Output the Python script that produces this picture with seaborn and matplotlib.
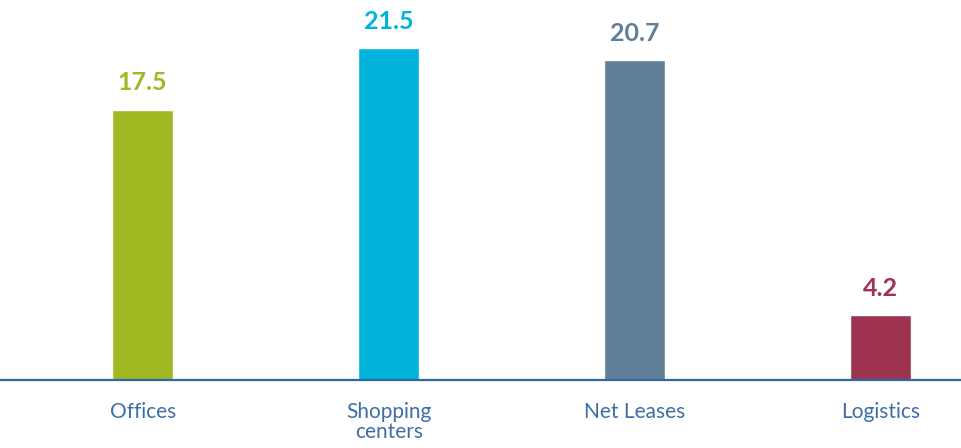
import matplotlib
matplotlib.use("Agg")
import matplotlib.pyplot as plt
import seaborn as sns
import pandas as pd

categories = ["Offices", "Shopping\ncenters", "Net Leases", "Logistics"]
values = [17.5, 21.5, 20.7, 4.2]
colors = ["#a0b822", "#00b3da", "#5f7f98", "#9e3350"]

sns.set_style("white")
plt.rcParams['font.family'] = ['Lato', 'DejaVu Sans']

df = pd.DataFrame({"cat": categories, "val": values})

fig = plt.figure(figsize=(9.62, 4.48), dpi=100)
ax = fig.add_axes([0, 0.1518, 1, 0.8482])
sns.barplot(data=df, x="cat", y="val", hue="cat", palette=colors,
            width=0.248, legend=False, ax=ax, saturation=1)

ax.set_xlim(-0.58, 3.33)
ax.set_ylim(0, 24.6)
for i, (v, c) in enumerate(zip(values, colors)):
    ax.annotate(f"{v}", (i, v), xytext=(0, 11), textcoords="offset points",
                ha="center", va="bottom", fontsize=18, fontweight="bold", color=c)

for s in ["top", "right", "left"]:
    ax.spines[s].set_visible(False)
ax.spines["bottom"].set_color("#2f68a0")
ax.spines["bottom"].set_linewidth(1.6)
ax.set_yticks([])
ax.set_xlabel("")
ax.set_ylabel("")
ax.tick_params(axis="x", length=0, pad=16, labelsize=15, labelcolor="#3d6fa6")
for t in ax.get_xticklabels():
    t.set_linespacing(1.0)

fig.savefig("out.png", dpi=100)
